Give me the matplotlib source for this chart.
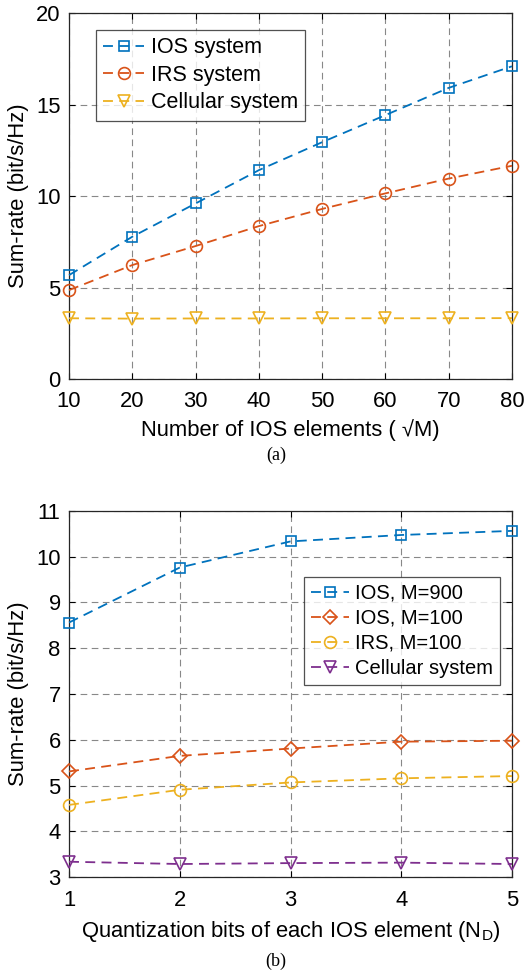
import matplotlib
matplotlib.use("Agg")
import matplotlib.pyplot as plt

# ---- data (a) ----
elements = [10, 20, 30, 40, 50, 60, 70, 80]
ios_a = [5.68, 7.78, 9.60, 11.42, 12.95, 14.43, 15.92, 17.10]
irs_a = [4.86, 6.23, 7.27, 8.36, 9.30, 10.15, 10.96, 11.66]
cell_a = [3.32, 3.30, 3.31, 3.31, 3.32, 3.32, 3.32, 3.33]

# ---- data (b) ----
bits = [1, 2, 3, 4, 5]
ios900_b = [8.56, 9.76, 10.33, 10.47, 10.56]
ios100_b = [5.31, 5.65, 5.81, 5.96, 5.98]
irs100_b = [4.58, 4.91, 5.07, 5.16, 5.21]
cell_b = [3.34, 3.29, 3.31, 3.32, 3.29]

BLUE, RED, YEL, PUR = "#0072BD", "#D95319", "#EDB120", "#7E2F8E"

plt.rcParams["font.family"] = ["Liberation Sans", "DejaVu Sans"]
FS = 15.8

fig = plt.figure(figsize=(5.27, 9.75), dpi=100)
ax1 = fig.add_axes([0.131, 0.6113, 0.8405, 0.3751])
ax2 = fig.add_axes([0.131, 0.1002, 0.8405, 0.3760])

line_kw = dict(linestyle=(0, (5.5, 3.5)), linewidth=1.3,
               markerfacecolor="none", markeredgewidth=1.2, clip_on=False,
               zorder=3)
SIZES = {"s": 7.5, "o": 8.5, "D": 7, "v": 8}


def style(ax):
    ax.grid(True, color="0.42", linestyle=(0, (6, 4)), linewidth=0.8, alpha=0.8)
    ax.set_axisbelow(True)
    ax.tick_params(direction="in", top=True, right=True, labelsize=FS,
                   length=4, width=0.8)
    ax.tick_params(axis="x", pad=9)
    ax.tick_params(axis="y", pad=6)
    for s in ax.spines.values():
        s.set_linewidth(0.9)
        s.set_color("0.15")


leg_kw = dict(frameon=True, fancybox=False, edgecolor="0.15",
              handlelength=1.9, handletextpad=0.3, borderpad=0.35,
              labelspacing=0.3, borderaxespad=0)


def draw(ax, x, y, m, c, lab):
    ax.plot(x, y, marker=m, markersize=SIZES[m], color=c, label=lab, **line_kw)


draw(ax1, elements, ios_a, "s", BLUE, "IOS system")
draw(ax1, elements, irs_a, "o", RED, "IRS system")
draw(ax1, elements, cell_a, "v", YEL, "Cellular system")
ax1.set_xlim(10, 80)
ax1.set_ylim(0, 20)
ax1.set_xticks([10, 20, 30, 40, 50, 60, 70, 80])
ax1.set_yticks([0, 5, 10, 15, 20])
style(ax1)
ax1.set_xlabel("Number of IOS elements ( \u221aM)", fontsize=FS, labelpad=5)
ax1.set_ylabel("Sum-rate (bit/s/Hz)", fontsize=FS, labelpad=5)
leg1 = ax1.legend(loc="upper left", bbox_to_anchor=(0.06, 0.955),
                  fontsize=15.5, **leg_kw)
leg1.get_frame().set_linewidth(0.9)

draw(ax2, bits, ios900_b, "s", BLUE, "IOS, M=900")
draw(ax2, bits, ios100_b, "D", RED, "IOS, M=100")
draw(ax2, bits, irs100_b, "o", YEL, "IRS, M=100")
draw(ax2, bits, cell_b, "v", PUR, "Cellular system")
ax2.set_xlim(1, 5)
ax2.set_ylim(3, 11)
ax2.set_xticks(bits)
ax2.set_yticks(range(3, 12))
style(ax2)
ax2.set_xlabel("Quantization bits of each IOS element (N$_\\mathregular{D}$)",
               fontsize=FS, labelpad=6)
ax2.set_ylabel("Sum-rate (bit/s/Hz)", fontsize=FS, labelpad=5)
leg2 = ax2.legend(loc="upper right", bbox_to_anchor=(0.973, 0.82),
                  fontsize=14.5, **leg_kw)
leg2.get_frame().set_linewidth(0.9)

fig.text(0.524, 0.533, "(a)", ha="center", va="center", fontsize=13,
         family="Liberation Serif")
fig.text(0.524, 0.0137, "(b)", ha="center", va="center", fontsize=13,
         family="Liberation Serif")

fig.savefig("out.png", dpi=100)
